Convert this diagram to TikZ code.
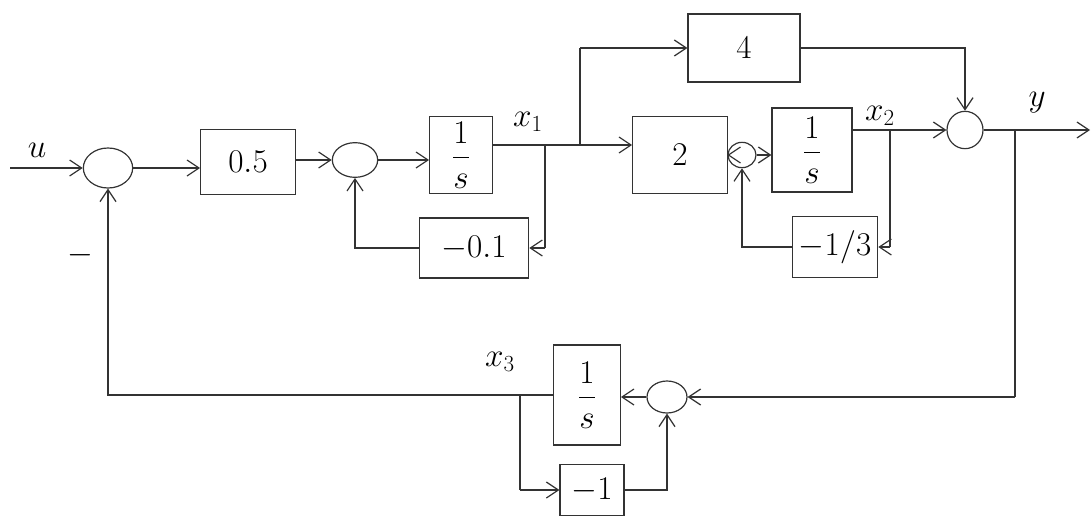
\documentclass[tikz,border=0pt]{standalone}
\usetikzlibrary{arrows.meta,shapes.geometric}
\begin{document}
\begin{tikzpicture}[x=0.75pt,y=-0.75pt,
  line width=0.9pt, draw=black!80,
  arr/.style={-{Straight Barb[length=9pt,width=12pt]}},
  blk/.style={draw, rectangle, inner sep=0pt, font=\fontsize{25}{30}\selectfont},
  sumj/.style={draw, ellipse, inner sep=0pt},
  lbl/.style={font=\fontsize{25}{30}\selectfont}]
\useasboundingbox (0,0) rectangle (1092,517);
% summing junctions
\node[sumj, minimum width=37pt, minimum height=30pt] (s1) at (108,168) {};
\node[sumj, minimum width=34pt, minimum height=26pt] (s2) at (355,160) {};
\node[sumj, minimum width=21pt, minimum height=19pt] (s4) at (742,155) {};
\node[sumj, minimum width=27pt, minimum height=28pt] (s3) at (965,130) {};
\node[sumj, minimum width=30pt, minimum height=24pt] (s5) at (667,397) {};
% blocks
\node[blk, minimum width=71pt, minimum height=49pt] (b05) at (248,162) {$0.5$};
\node[blk, minimum width=47pt, minimum height=58pt] (i1) at (461,155) {$\displaystyle\frac{1}{s}$};
\node[blk, minimum width=82pt, minimum height=45pt] (b01) at (474,248) {$-0.1$};
\node[blk, minimum width=84pt, minimum height=51pt] (b4) at (744,48) {$4$};
\node[blk, minimum width=71pt, minimum height=58pt] (b2) at (680,155) {$2$};
\node[blk, minimum width=60pt, minimum height=63pt] (i2) at (812,150) {$\displaystyle\frac{1}{s}$};
\node[blk, minimum width=64pt, minimum height=46pt] (b13) at (835,247) {$-1/3$};
\node[blk, minimum width=50pt, minimum height=75pt] (i3) at (587,395) {$\displaystyle\frac{1}{s}$};
\node[blk, minimum width=48pt, minimum height=38pt] (bm1) at (592,490) {$-1$};
% coordinates
\coordinate (uin) at (10,168);
\coordinate (yout) at (1090,130);
\coordinate (p1) at (545,145);
\coordinate (p2) at (580,145);
\coordinate (p3) at (890,130);
\coordinate (p4) at (1015,130);
\coordinate (p5) at (520,395);
% labels
\node[lbl] (lu) at (37,150) {$u$};
\node[lbl] (lm) at (80,255) {$-$};
\node[lbl] (lx1) at (528,122) {$x_1$};
\node[lbl] (lx2) at (880,116) {$x_2$};
\node[lbl] (ly) at (1037,103) {$y$};
\node[lbl] (lx3) at (500,362) {$x_3$};
% forward path
\draw[arr] (uin) -- (s1.west);
\draw[arr] (s1.east) -- (s1.east -| b05.west);
\draw[arr] (b05.east |- s2.west) -- (s2.west);
\draw[arr] (s2.east) -- (s2.east -| i1.west);
\draw[arr] (i1.east |- p1) -- (p1) -- (p2) -- (p2 -| b2.west);
\draw (p1) -- (p1 |- b01.east);
\draw[arr] (p1 |- b01.east) -- (b01.east);
\draw[arr] (b01.west) -| (s2.south);
\draw (p2) -- (p2 |- b4.west);
\draw[arr] (p2 |- b4.west) -- (b4.west);
\draw[arr] (b4.east) -| (s3.north);
\draw[arr] (b2.east |- s4.west) -- (s4.west);
\draw[arr] (s4.east) -- (s4.east -| i2.west);
\draw[arr] (i2.east |- s3.west) -- (s3.west);
\draw (p3) -- (p3 |- b13.east);
\draw[arr] (p3 |- b13.east) -- (b13.east);
\draw[arr] (b13.west) -| (s4.south);
\draw[arr] (s3.east) -- (yout);
% outer feedback
\draw (p4) -- (p4 |- s5.east);
\draw[arr] (p4 |- s5.east) -- (s5.east);
\draw[arr] (s5.west) -- (s5.west -| i3.east);
\draw[arr] (i3.west) -- (s1.south |- i3.west) -- (s1.south);
\draw (p5) -- (p5 |- bm1.west);
\draw[arr] (p5 |- bm1.west) -- (bm1.west);
\draw[arr] (bm1.east) -| (s5.south);
\end{tikzpicture}
\end{document}
